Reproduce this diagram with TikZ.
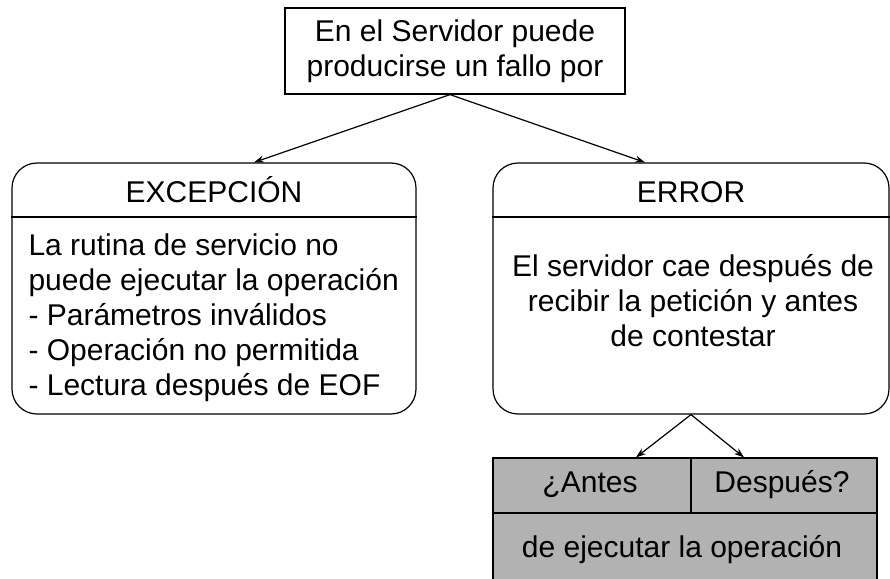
\documentclass[tikz,border=0pt]{standalone}
\usepackage{fontspec}
\setmainfont{Liberation Sans}
\usetikzlibrary{arrows.meta}
\definecolor{cellgray}{RGB}{178,178,178}
\tikzset{
  link/.style={-{Stealth[length=10pt,width=7pt]}, line width=1.2pt},
  frame/.style={draw, line width=1.2pt, inner sep=0pt},
  panel/.style={frame, rounded corners=25pt},
  cell/.style={frame, fill=cellgray},
}
\begin{document}
\begin{tikzpicture}[x=1pt, y=-1pt, font=\fontsize{30}{35}\selectfont]
    \useasboundingbox (0,0) rectangle (890,578);
    % root question
    \node[frame, align=center, minimum width=340pt, minimum height=86pt] (root) at (455,51)
      {En el Servidor puede\\producirse un fallo por};
    % exception panel
    \node[panel, minimum width=404pt, minimum height=251pt] (exc) at (214,288.5) {};
    \node[anchor=base] (exctitle) at (214,202) {EXCEPCIÓN};
    \draw[line width=1.2pt] (exc.west |- 0,217) -- (exc.east |- 0,217);
    \node[anchor=north west, align=left] (excbody) at (25,230)
      {La rutina de servicio no\\puede ejecutar la operación\\- Parámetros inválidos\\- Operación no permitida\\- Lectura después de EOF};
    % error panel
    \node[panel, minimum width=396pt, minimum height=251pt] (err) at (691,288.5) {};
    \node[anchor=base] (errtitle) at (691,202) {ERROR};
    \draw[line width=1.2pt] (err.west |- 0,217) -- (err.east |- 0,217);
    \node[anchor=north, align=center] (errbody) at (693,251)
      {El servidor cae después de\\recibir la petición y antes\\de contestar};
    % before / after cells
    \node[cell, minimum width=198pt, minimum height=55pt] (antes) at (592,485.5) {};
    \node[cell, minimum width=186pt, minimum height=55pt] (despues) at (784,485.5) {};
    \node[cell, minimum width=384pt, minimum height=69pt] (ejec) at (685,547.5) {};
    \node[anchor=base] at (590,492) {¿Antes};
    \node[anchor=base] at (782,492) {Después?};
    \node[anchor=base] at (682,557) {de ejecutar la operación};
    % connectors
    \draw[link] ([xshift=-5pt]root.south) -- ([xshift=40pt]exc.north);
    \draw[link] ([xshift=-5pt]root.south) -- ([xshift=-46pt]err.north);
    \draw[link] (err.south) -- ([xshift=44pt]antes.north);
    \draw[link] (err.south) -- ([xshift=-40pt]despues.north);
\end{tikzpicture}
\end{document}
